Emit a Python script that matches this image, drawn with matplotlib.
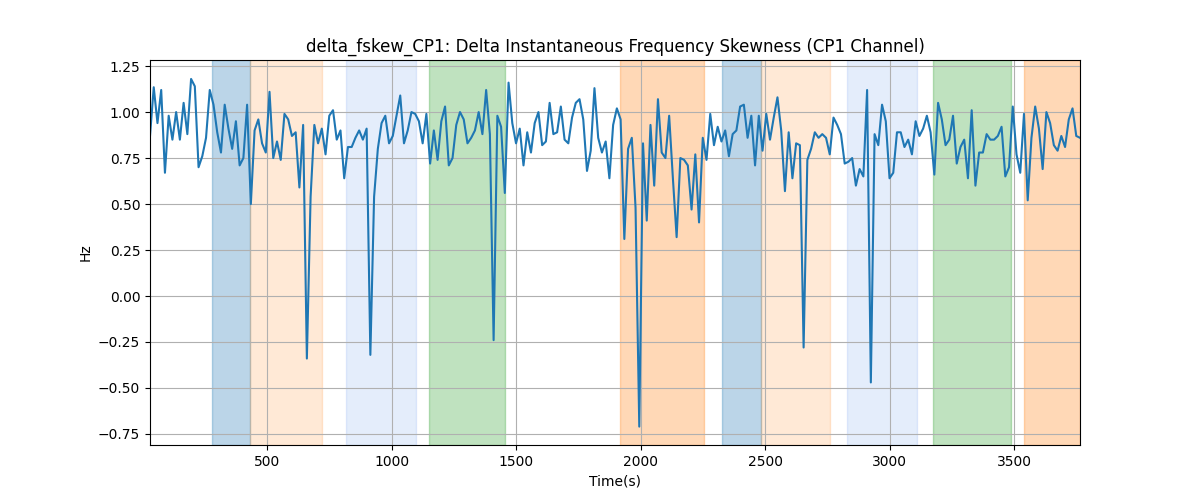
import numpy as np
import matplotlib
matplotlib.use("Agg")
import matplotlib.pyplot as plt

# time axis: one sample every 15 s
t_start, t_step, n_pts = 30, 15, 250

vals_a = [0.87, 1.135, 0.94, 1.12, 0.67, 0.98, 0.85, 1.0, 0.85, 1.05,
          0.88, 1.18, 1.14, 0.70, 0.76, 0.86, 1.12, 1.04, 0.89, 0.78,
          1.04, 0.91, 0.80, 0.95, 0.71, 0.75, 1.04, 0.50, 0.90, 0.96,
          0.83, 0.78, 1.11, 0.75, 0.84, 0.74, 0.99, 0.96, 0.87, 0.89,
          0.59, 0.93, -0.34, 0.54, 0.93, 0.83, 0.91, 0.77, 0.98, 1.01,
          0.85, 0.90, 0.64, 0.81, 0.81, 0.86, 0.90, 0.85, 0.91, -0.32,
          0.54, 0.80, 0.94, 0.98, 0.83, 0.87, 0.98, 1.09, 0.83, 0.90,
          1.0, 0.99, 0.95, 0.83, 0.99, 0.72, 0.90, 0.74, 0.95, 1.03,
          0.71, 0.75, 0.93, 1.0, 0.96, 0.83]
vals_b = [0.86, 0.90, 1.0, 0.88, 1.12, 0.88, -0.24, 0.98, 0.92, 0.56,
          1.16, 0.94, 0.83, 0.91, 0.71, 0.89, 0.78, 0.94, 1.0, 0.82,
          0.84, 1.05, 0.88, 0.89, 1.03, 0.85, 0.83, 0.97, 1.05, 1.07,
          0.96, 0.68, 0.79, 1.13, 0.86, 0.78, 0.84, 0.64, 0.93, 1.02,
          0.96, 0.31, 0.80, 0.86, 0.48, -0.71, 0.83, 0.41, 0.93, 0.60,
          1.07, 0.78, 0.75, 0.98, 0.64, 0.32, 0.75, 0.74, 0.71, 0.47,
          0.77, 0.40, 0.86, 0.74, 0.99, 0.82, 0.92, 0.84, 0.90, 0.76,
          0.88, 0.90, 1.03, 1.04, 0.86, 0.98, 0.71, 0.98, 0.79, 0.99,
          0.85, 0.97, 1.08, 0.90, 0.57, 0.89]
vals_c = [0.64, 0.83, 0.82, -0.28, 0.74, 0.80, 0.89, 0.86, 0.88, 0.86,
          0.77, 0.97, 0.93, 0.88, 0.72, 0.73, 0.75, 0.60, 0.69, 0.65,
          1.12, -0.47, 0.88, 0.82, 1.04, 0.95, 0.64, 0.67, 0.89, 0.89,
          0.81, 0.85, 0.77, 0.95, 0.87, 0.91, 0.98, 0.89, 0.66, 1.05,
          0.96, 0.82, 0.85, 0.98, 0.72, 0.81, 0.85, 0.64, 1.01, 0.60,
          0.78, 0.78, 0.88, 0.85, 0.85, 0.87, 0.92, 0.65, 0.70, 1.03,
          0.77, 0.67, 0.99, 0.52, 0.86, 1.03, 0.91, 0.69, 1.0, 0.94,
          0.82, 0.79, 0.87, 0.81, 0.96, 1.02, 0.87, 0.86]

# shaded intervals: (start, end, color, alpha)
span_start = [280, 432, 818, 1152, 1917, 2327, 2482, 2831, 3174, 3539]
span_end = [432, 722, 1098, 1454, 2253, 2482, 2761, 3110, 3489, 3765]
span_color = ['tab:blue', 'tab:orange', 'cornflowerblue', 'tab:green', 'tab:orange',
              'tab:blue', 'tab:orange', 'cornflowerblue', 'tab:green', 'tab:orange']
span_alpha = [0.3, 0.17, 0.17, 0.3, 0.3, 0.3, 0.17, 0.17, 0.3, 0.3]

values = np.array(vals_a + vals_b + vals_c)
times = t_start + t_step * np.arange(n_pts)

fig, ax = plt.subplots(figsize=(12, 5), dpi=100)
for s, e, c, a in zip(span_start, span_end, span_color, span_alpha):
    ax.axvspan(s, e, color=c, alpha=a)
ax.plot(times, values, color='tab:blue', linewidth=1.5)
ax.set_xlim(times.min(), times.max())
ax.set_ylim(-0.81, 1.283)
ax.set_title('delta_fskew_CP1: Delta Instantaneous Frequency Skewness (CP1 Channel)')
ax.set_xlabel('Time(s)')
ax.set_ylabel('Hz')
ax.grid(True)
fig.savefig('out.png')
